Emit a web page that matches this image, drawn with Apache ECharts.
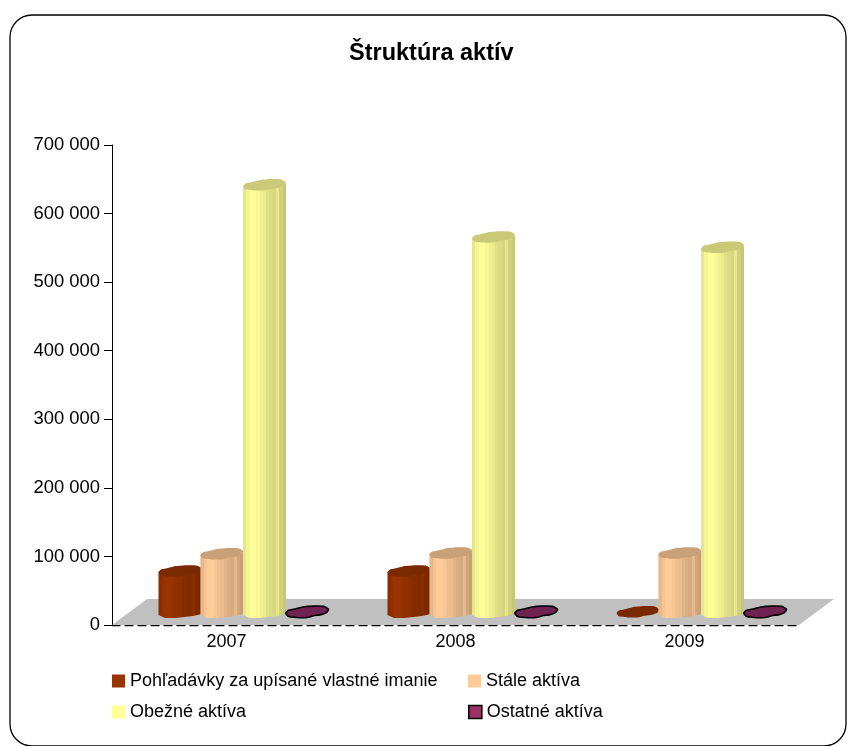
<!DOCTYPE html>
<html><head><meta charset="utf-8">
<style>html,body{margin:0;padding:0;background:#fff}#c{width:848px;height:746px}</style>
<script src="https://cdn.jsdelivr.net/npm/echarts@6/dist/echarts.min.js"></script>
</head><body><div id="c"></div>
<script>
const titleText = 'Štruktúra aktív';
const categories = ['2007', '2008', '2009'];
const names = ['Pohľadávky za upísané vlastné imanie', 'Stále aktíva', 'Obežné aktíva', 'Ostatné aktíva'];
const pohladavky = [60000, 60000, 300];
const staleAktiva = [85000, 86000, 86000];
const obezneAktiva = [623000, 547000, 532000];
const ostatneAktiva = [300, 300, 300];
const colors = ['#993300', '#FFCC99', '#FFFF99', '#993366'];
const capColors = ['#7A2900', '#C9A077', '#C9C977', '#6F2350'];

const FONT = '"Liberation Sans", Arial, sans-serif';
const BASE_LIFT = 13;
const CAP_H = 5.7;
const capOutline = [[-1,.25],[-.88,-.25],[-.55,-.5],[-.2,-.85],[.3,-1],[.78,-.95],[1,-.45],[.9,.15],[.65,.5],[.3,.7],[0,1],[-.5,1],[-.88,.8]];
const stripes = [.9,.96,1,1,.97,.94,.92,.88,.86,.84,.9,.82,.78];
const slotOffsets = [-.203,-.02,.166,.352];

function shade(hex, f) {
  const n = parseInt(hex.slice(1), 16);
  const c = s => Math.round(((n >> s) & 255) * f);
  return 'rgb(' + c(16) + ',' + c(8) + ',' + c(0) + ')';
}
function bodyGradient(hex) {
  const stops = [];
  stripes.forEach((f, i) => {
    stops.push({offset: i / stripes.length, color: shade(hex, f)});
    stops.push({offset: (i + 1) / stripes.length, color: shade(hex, f)});
  });
  return new echarts.graphic.LinearGradient(0, 0, 1, 0, stops);
}
function cylinder(slot, outlined) {
  return function (params, api) {
    const idx = api.value(0), val = api.value(1);
    const band = api.size([1, 0])[0];
    const w = band * 0.188, hw = w / 2;
    const p0 = api.coord([idx, 0]), p1 = api.coord([idx, val]);
    const cx = p0[0] + band * slotOffsets[slot];
    const yb = p0[1] - BASE_LIFT, yt = p1[1] - BASE_LIFT;
    const children = [];
    if (yb - yt > 3) {
      const pts = [[cx - hw, yt + 1], [cx + hw, yt - 1], [cx + hw, yb + 2],
        [cx + hw * .6, yb + 4], [cx + hw * .2, yb + 5], [cx - hw * .2, yb + 6],
        [cx - hw * .7, yb + 6], [cx - hw, yb + 3]];
      children.push({type: 'polygon', shape: {points: pts},
        style: {fill: bodyGradient(colors[slot]), stroke: null}});
    }
    const cap = capOutline.map(o => [cx + o[0] * hw, yt + o[1] * CAP_H]);
    children.push({type: 'polygon', shape: {points: cap, smooth: .1},
      style: {fill: capColors[slot], stroke: outlined ? '#000' : null, lineWidth: 1.6}});
    return {type: 'group', children};
  };
}
function floor(params, api) {
  const s = api.size([1, 0])[0];
  const mid = api.coord([1, 0]);
  const lx = mid[0] - s * 1.5, rx = mid[0] + s * 1.5, y = mid[1];
  const d = 35, h = 26;
  return {type: 'polygon', silent: true,
    shape: {points: [[lx, y], [rx, y], [rx + d, y - h], [lx + d, y - h]]},
    style: {fill: '#C0C0C0'}};
}
const seriesValues = [pohladavky, staleAktiva, obezneAktiva, ostatneAktiva];
const series = [{
  type: 'custom', silent: true, renderItem: floor, data: [[0, 0]], z: 1,
  encode: {x: 0, y: 1}, clip: false
}].concat(seriesValues.map((vals, i) => ({
  type: 'custom', name: names[i], z: 3 + i, clip: false,
  renderItem: cylinder(i, i === 3),
  itemStyle: {color: colors[i]},
  encode: {x: 0, y: 1},
  data: vals.map((v, k) => [k, v])
})));
const legendPos = [[112, 672], [468, 672], [112, 703], [468, 703]];
const chart = echarts.init(document.getElementById('c'), null, {renderer: 'canvas'});
chart.setOption({
  animation: false,
  backgroundColor: '#fff',
  textStyle: {fontFamily: FONT},
  title: {text: titleText, left: 344, top: 37,
    textStyle: {fontFamily: FONT, fontSize: 23.5, fontWeight: 'bold', color: '#000'}},
  grid: {left: 112, top: 145, width: 687, height: 480, containLabel: false},
  legend: names.map((n, i) => ({
    data: [n], left: legendPos[i][0], top: legendPos[i][1], icon: 'rect',
    itemWidth: 13, itemHeight: 13, itemGap: 0, padding: 0,
    itemStyle: {borderWidth: i === 3 ? 1.6 : 0, borderColor: '#000'},
    textStyle: {fontFamily: FONT, fontSize: 18, color: '#000'}
  })),
  xAxis: {type: 'category', data: categories, boundaryGap: true,
    axisLine: {lineStyle: {color: '#000', type: [8, 5], width: 1.3}},
    axisTick: {show: false},
    axisLabel: {color: '#000', fontSize: 18, fontFamily: FONT, margin: 8}},
  yAxis: {type: 'value', min: 0, max: 700000, interval: 100000,
    axisLine: {show: true, lineStyle: {color: '#000', width: 1}},
    axisTick: {show: true, length: 8, lineStyle: {color: '#000'}},
    splitLine: {show: false},
    axisLabel: {color: '#000', fontSize: 18.4, fontFamily: FONT, margin: 12, padding: [2, 0, 0, 0],
      formatter: v => String(v).replace(/\B(?=(\d{3})+$)/g, ' ')}},
  graphic: [{type: 'rect', silent: true, z: -1,
    shape: {x: 10, y: 15, width: 836, height: 731, r: 22},
    style: {fill: 'none', stroke: '#000', lineWidth: 1.3}}],
  series
});
</script></body></html>
